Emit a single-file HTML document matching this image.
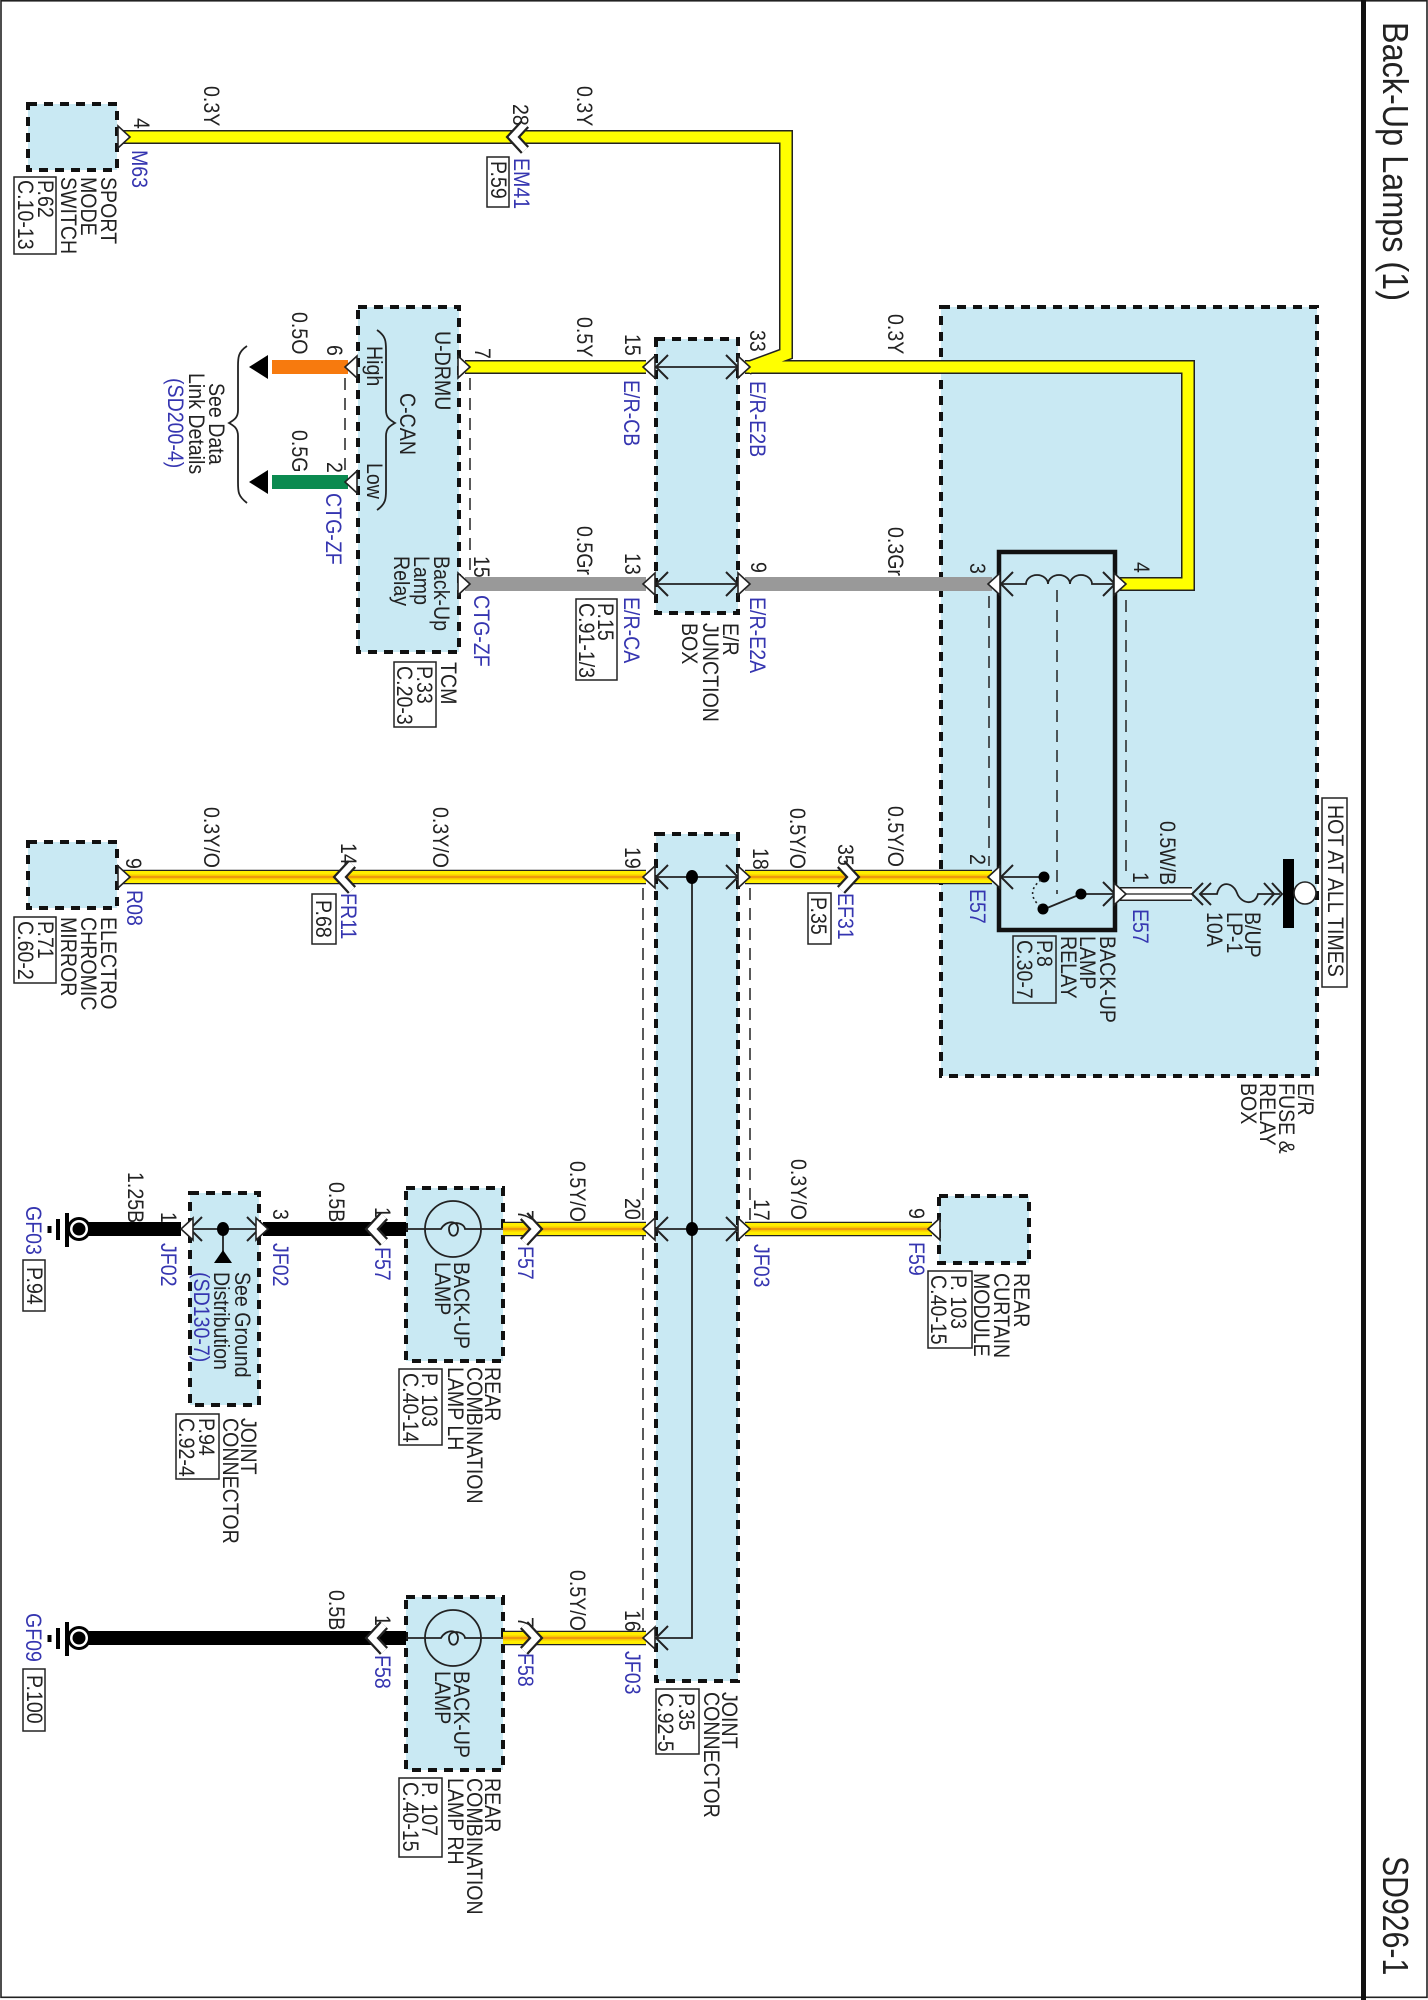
<!DOCTYPE html>
<html><head><meta charset="utf-8"><title>Back-Up Lamps (1)</title>
<style>
html,body{margin:0;padding:0;background:#fff}
svg{display:block}
text{font-family:"Liberation Sans",sans-serif;font-size:22px;fill:#222}
.b{fill:#3535b0}
.box{fill:#c9e9f3;stroke:#111;stroke-width:4;stroke-dasharray:9 7}
.ref{fill:#fff;stroke:#222;stroke-width:1.5}
.ln{fill:none;stroke:#222;stroke-width:1.8}
.da{fill:none;stroke:#222;stroke-width:1.5;stroke-dasharray:12 8}
</style></head><body>
<svg width="1428" height="2000" viewBox="0 0 1428 2000" xmlns="http://www.w3.org/2000/svg">
<defs>
<polygon id="R" points="-12,-11 0,0 -12,11" fill="#fff" stroke="#222" stroke-width="1.6"/>
<polygon id="L" points="12,-11 0,0 12,11" fill="#fff" stroke="#222" stroke-width="1.6"/>
<g id="RW"><polyline points="-12,-13 0,0 -12,13" fill="none" stroke="#222" stroke-width="11"/><polyline points="-12,-13 0,0 -12,13" fill="none" stroke="#fff" stroke-width="6.5"/></g>
<g id="LW"><polyline points="12,-13 0,0 12,13" fill="none" stroke="#222" stroke-width="11"/><polyline points="12,-13 0,0 12,13" fill="none" stroke="#fff" stroke-width="6.5"/></g>
<polyline id="ar" points="-12,-12 0,0 -12,12" fill="none" stroke="#222" stroke-width="2"/>
<polyline id="al" points="12,-12 0,0 12,12" fill="none" stroke="#222" stroke-width="2"/>
</defs>

<!-- frame -->
<rect x="1" y="0.8" width="1426" height="1996.5" fill="none" stroke="#222" stroke-width="1.6"/>
<rect x="1361" y="0" width="5" height="2000" fill="#111"/>

<!-- wires: yellow -->
<path d="M122 137H786V354L748 368M465 367H646M745 367H1188V584H1120" fill="none" stroke="#222" stroke-width="14" stroke-linejoin="miter"/>
<path d="M122 137H786V354L748 368M465 367H646M745 367H1188V584H1120" fill="none" stroke="#ffff00" stroke-width="11" stroke-linejoin="miter"/>

<!-- boxes -->
<rect class="box" x="28" y="104" width="89" height="66"/>
<rect class="box" x="358" y="307" width="101" height="345"/>
<rect class="box" x="656" y="339" width="82" height="274"/>
<path d="M941 307H1317V1076H941Z" fill="#c9e9f3"/>
<path class="box" style="fill:none" d="M941 307H1317V1076H941Z"/>
<rect class="box" x="28" y="842" width="89" height="66"/>
<rect class="box" x="656" y="834" width="82" height="847"/>
<rect class="box" x="190" y="1193" width="69" height="212"/>
<rect class="box" x="406" y="1188" width="97" height="173"/>
<rect class="box" x="406" y="1597" width="97" height="173"/>
<rect class="box" x="939" y="1196" width="90" height="67"/>
<rect x="999" y="552" width="116" height="378" fill="#c9e9f3" stroke="#111" stroke-width="4.5"/>

<!-- dashed shield lines -->
<path class="da" d="M345 378V475M470 378V572M643 888V1638M750 888V1225M989 596V866M1126 600V871M1057 590V894"/>

<!-- redraw yellow inside fuse box -->
<path d="M932 367H1188V584H1120" fill="none" stroke="#222" stroke-width="14" stroke-linejoin="miter"/>
<path d="M932 367H1188V584H1120" fill="none" stroke="#ffff00" stroke-width="11" stroke-linejoin="miter"/>
<!-- gray -->
<path d="M465 584H646M745 584H992" fill="none" stroke="#999" stroke-width="14"/>
<!-- orange / green -->
<rect x="272" y="360" width="76" height="14" fill="#f77a0e"/>
<rect x="272" y="475" width="76" height="14" fill="#0b8a50"/>
<polygon points="249,367 268,355 268,379" fill="#000"/>
<polygon points="249,482 268,470 268,494" fill="#000"/>
<!-- Y/O -->
<g fill="none">
<path d="M122 877H646M745 877H992M503 1229H646M745 1229H932M503 1638H646" stroke="#222" stroke-width="14.5"/>
<path d="M122 877H646M745 877H992M503 1229H646M745 1229H932M503 1638H646" stroke="#ffee00" stroke-width="12"/>
<path d="M122 877H646M745 877H992M503 1229H646M745 1229H932M503 1638H646" stroke="#f9c800" stroke-width="5"/>
<path d="M122 877H646M745 877H992M503 1229H646M745 1229H932M503 1638H646" stroke="#ea8a10" stroke-width="1.6"/>
</g>
<!-- Black wires -->
<path d="M85 1229H181M263 1229H406M85 1638H406" fill="none" stroke="#000" stroke-width="14"/>
<!-- W/B -->
<path d="M1120 894H1192" stroke="#222" stroke-width="14" fill="none"/>
<path d="M1120 894H1192" stroke="#fff" stroke-width="11" fill="none"/>
<path d="M1120 894H1192" stroke="#444" stroke-width="1.4" fill="none"/>

<!-- internal lines -->
<path class="ln" d="M656 367H738M656 584H738M656 877H738M656 1229H738M692 877V1638H656M190 1229H259M223 1229V1252"/>
<path class="ln" d="M406 1229H441C446 1220 458 1220 458 1229C458 1238 449 1238 449 1229C449 1220 464 1222 465 1229H503"/>
<path class="ln" d="M406 1638H441C446 1629 458 1629 458 1638C458 1647 449 1647 449 1638C449 1629 464 1631 465 1638H503"/>
<circle cx="453" cy="1229" r="28" class="ln"/>
<circle cx="453" cy="1638" r="28" class="ln"/>
<use href="#al" x="656" y="367"/><use href="#ar" x="738" y="367"/>
<use href="#al" x="656" y="584"/><use href="#ar" x="738" y="584"/>
<use href="#al" x="656" y="877"/><use href="#ar" x="738" y="877"/>
<use href="#al" x="656" y="1229"/><use href="#ar" x="738" y="1229"/>
<use href="#al" x="656" y="1638"/>
<use href="#al" x="190" y="1229"/><use href="#ar" x="259" y="1229"/>
<ellipse cx="692" cy="877" rx="6" ry="7" fill="#000"/>
<ellipse cx="692" cy="1229" rx="6" ry="7" fill="#000"/>
<ellipse cx="223" cy="1229" rx="6" ry="7" fill="#000"/>
<polygon points="223,1250 214,1263 232,1263" fill="#000"/>

<!-- relay internals -->
<path class="ln" d="M1001 584H1026a11 9 0 0 1 22 0a11 9 0 0 1 22 0a11 9 0 0 1 22 0H1115"/>
<use href="#al" x="1001" y="584"/><use href="#ar" x="1115" y="584"/>
<path class="ln" d="M1001 877H1044M1081 894H1115M1081 894L1047 908"/>
<use href="#al" x="1001" y="877"/><use href="#ar" x="1115" y="894"/>
<circle cx="1044" cy="877" r="5.5" fill="#000"/><circle cx="1043" cy="909" r="5.5" fill="#000"/><circle cx="1081" cy="894" r="5.5" fill="#000"/>
<path d="M1041 880C1030 888 1030 898 1040 906" fill="none" stroke="#222" stroke-width="1.6" stroke-dasharray="2 3"/>

<!-- fuse -->
<path class="ln" d="M1200 894H1217C1220 880 1233 882 1237 893C1241 904 1255 906 1258 894H1280"/>
<polyline points="1203,883 1192,894 1203,905" fill="none" stroke="#222" stroke-width="2"/>
<polyline points="1211,883 1200,894 1211,905" fill="none" stroke="#222" stroke-width="2"/>
<polyline points="1264,883 1274,894 1264,905" fill="none" stroke="#222" stroke-width="2"/>
<polyline points="1272,883 1282,894 1272,905" fill="none" stroke="#222" stroke-width="2"/>
<rect x="1283" y="859" width="11" height="69" fill="#000"/>
<circle cx="1305" cy="893" r="11" fill="#fff" stroke="#222" stroke-width="1.6"/>

<!-- connector chevrons -->
<use href="#R" x="130" y="137"/><use href="#LW" x="513" y="137"/>
<use href="#R" x="470" y="367"/><use href="#L" x="643" y="367"/><use href="#R" x="750" y="367"/>
<use href="#L" x="345" y="367"/><use href="#L" x="345" y="482"/>
<use href="#R" x="470" y="584"/><use href="#L" x="643" y="584"/><use href="#R" x="750" y="584"/><use href="#L" x="988" y="584"/><use href="#R" x="1126" y="584"/>
<use href="#R" x="130" y="877"/><use href="#LW" x="340" y="877"/><use href="#L" x="643" y="877"/><use href="#R" x="750" y="877"/><use href="#RW" x="853" y="877"/><use href="#L" x="988" y="877"/><use href="#R" x="1126" y="894"/>
<use href="#L" x="181" y="1229"/><use href="#R" x="268" y="1229"/><use href="#LW" x="372" y="1229"/><use href="#RW" x="536" y="1229"/><use href="#L" x="643" y="1229"/><use href="#R" x="750" y="1229"/><use href="#L" x="928" y="1229"/>
<use href="#LW" x="372" y="1638"/><use href="#RW" x="536" y="1638"/><use href="#L" x="643" y="1638"/>

<!-- grounds -->
<circle cx="79" cy="1229" r="12" fill="#000"/><circle cx="79" cy="1229" r="9" fill="#fff"/><circle cx="79" cy="1229" r="6.5" fill="#000"/>
<circle cx="79" cy="1638" r="12" fill="#000"/><circle cx="79" cy="1638" r="9" fill="#fff"/><circle cx="79" cy="1638" r="6.5" fill="#000"/>
<path d="M67 1213V1247M58 1219V1240M49.5 1226V1233M67 1622V1656M58 1628V1649M49.5 1635V1642" stroke="#000" stroke-width="4" fill="none"/>

<!-- braces -->
<path class="ln" d="M247 346C238 352 238 358 238 366V410C238 418 234 420 229 423C234 426 238 428 238 436V482C238 492 238 496 247 503"/>
<path class="ln" d="M377 330C386 336 386 342 386 350V410C386 418 390 420 395 423C390 426 386 428 386 436V490C386 498 386 504 377 510"/>

<!-- reference boxes -->
<rect class="ref" x="14" y="177" width="42" height="77"/>
<rect class="ref" x="487" y="157" width="22" height="50"/>
<rect class="ref" x="394" y="662" width="42" height="65"/>
<rect class="ref" x="576" y="599" width="41" height="81"/>
<rect class="ref" x="14" y="917" width="42" height="66"/>
<rect class="ref" x="312" y="894" width="24" height="50"/>
<rect class="ref" x="808" y="893" width="23" height="51"/>
<rect class="ref" x="1013" y="936" width="43" height="67" style="fill:none"/>
<rect class="ref" x="1322" y="798" width="25" height="189"/>
<rect class="ref" x="23" y="1260" width="22" height="51"/>
<rect class="ref" x="176" y="1414" width="43" height="65"/>
<rect class="ref" x="399" y="1369" width="43" height="76"/>
<rect class="ref" x="928" y="1271" width="44" height="77"/>
<rect class="ref" x="23" y="1669" width="22" height="62"/>
<rect class="ref" x="399" y="1778" width="43" height="79"/>
<rect class="ref" x="656" y="1689" width="43" height="65"/>

<!-- labels -->
<g>
<text transform="matrix(0 .9 -1 0 1383 22)" style="font-size:36px">Back-Up Lamps (1)</text>
<text transform="matrix(0 .84 -1 0 1383 1856)" style="font-size:36px">SD926-1</text>

<text transform="matrix(0 .89 -1 0 134 118)">4</text>
<text transform="matrix(0 .89 -1 0 204 86)">0.3Y</text>
<text transform="matrix(0 .89 -1 0 513 104)">28</text>
<text transform="matrix(0 .89 -1 0 577 86)">0.3Y</text>
<text transform="matrix(0 .89 -1 0 750 330)">33</text>
<text class="b" transform="matrix(0 .89 -1 0 750 381)">E/R-E2B</text>
<text class="b" transform="matrix(0 .89 -1 0 132 150)">M63</text>
<text class="b" transform="matrix(0 .89 -1 0 514 158)">EM41</text>
<text transform="matrix(0 .89 -1 0 491 161)">P.59</text>
<text transform="matrix(0 .89 -1 0 101 177)">SPORT</text>
<text transform="matrix(0 .89 -1 0 81 177)">MODE</text>
<text transform="matrix(0 .89 -1 0 61 177)">SWITCH</text>
<text transform="matrix(0 .89 -1 0 38 180)">P.62</text>
<text transform="matrix(0 .89 -1 0 18 180)">C.10-13</text>

<text transform="matrix(0 .89 -1 0 292 312)">0.5O</text>
<text transform="matrix(0 .89 -1 0 292 430)">0.5G</text>
<text transform="matrix(0 .89 -1 0 327 345)">6</text>
<text transform="matrix(0 .89 -1 0 327 462)">2</text>
<text class="b" transform="matrix(0 .89 -1 0 326 493)">CTG-ZF</text>
<text transform="matrix(0 .89 -1 0 367 346)">High</text>
<text transform="matrix(0 .89 -1 0 367 463)">Low</text>
<text transform="matrix(0 .89 -1 0 400 393)">C-CAN</text>
<text transform="matrix(0 .89 -1 0 435 331)">U-DRMU</text>
<text transform="matrix(0 .89 -1 0 475 348)">7</text>
<text transform="matrix(0 .89 -1 0 577 317)">0.5Y</text>
<text transform="matrix(0 .89 -1 0 625 334)">15</text>
<text class="b" transform="matrix(0 .89 -1 0 624 380)">E/R-CB</text>
<text transform="matrix(0 .89 -1 0 209 383)">See Data</text>
<text transform="matrix(0 .89 -1 0 189 373)">Link Details</text>
<text class="b" transform="matrix(0 .89 -1 0 168 378)">(SD200-4)</text>
<text transform="matrix(0 .89 -1 0 434 556)">Back-Up</text>
<text transform="matrix(0 .89 -1 0 414 556)">Lamp</text>
<text transform="matrix(0 .89 -1 0 394 556)">Relay</text>
<text transform="matrix(0 .89 -1 0 474 556)">15</text>
<text class="b" transform="matrix(0 .89 -1 0 474 595)">CTG-ZF</text>
<text transform="matrix(0 .89 -1 0 577 526)">0.5Gr</text>
<text transform="matrix(0 .89 -1 0 625 553)">13</text>
<text class="b" transform="matrix(0 .89 -1 0 624 597)">E/R-CA</text>
<text transform="matrix(0 .89 -1 0 751 562)">9</text>
<text class="b" transform="matrix(0 .89 -1 0 750 597)">E/R-E2A</text>
<text transform="matrix(0 .89 -1 0 598 603)">P.15</text>
<text transform="matrix(0 .89 -1 0 579 603)">C.91-1/3</text>
<text transform="matrix(0 .89 -1 0 723 623)">E/R</text>
<text transform="matrix(0 .89 -1 0 703 623)">JUNCTION</text>
<text transform="matrix(0 .89 -1 0 682 623)">BOX</text>
<text transform="matrix(0 .89 -1 0 441 662)">TCM</text>
<text transform="matrix(0 .89 -1 0 417 666)">P.33</text>
<text transform="matrix(0 .89 -1 0 397 666)">C.20-3</text>

<text transform="matrix(0 .89 -1 0 888 314)">0.3Y</text>
<text transform="matrix(0 .89 -1 0 888 527)">0.3Gr</text>
<text transform="matrix(0 .89 -1 0 970 563)">3</text>
<text transform="matrix(0 .89 -1 0 1134 562)">4</text>
<text transform="matrix(0 .89 -1 0 888 806)">0.5Y/O</text>
<text transform="matrix(0 .89 -1 0 790 808)">0.5Y/O</text>
<text transform="matrix(0 .89 -1 0 753 848)">18</text>
<text transform="matrix(0 .89 -1 0 838 844)">35</text>
<text class="b" transform="matrix(0 .89 -1 0 838 893)">EF31</text>
<text transform="matrix(0 .89 -1 0 811 897)">P.35</text>
<text transform="matrix(0 .89 -1 0 970 854)">2</text>
<text class="b" transform="matrix(0 .89 -1 0 970 889)">E57</text>
<text transform="matrix(0 .89 -1 0 1133 872)">1</text>
<text transform="matrix(0 .89 -1 0 1160 821)">0.5W/B</text>
<text class="b" transform="matrix(0 .89 -1 0 1133 909)">E57</text>
<text transform="matrix(0 .89 -1 0 1100 936)">BACK-UP</text>
<text transform="matrix(0 .89 -1 0 1080 936)">LAMP</text>
<text transform="matrix(0 .89 -1 0 1061 936)">RELAY</text>
<text transform="matrix(0 .89 -1 0 1037 940)">P.8</text>
<text transform="matrix(0 .89 -1 0 1017 940)">C.30-7</text>
<text transform="matrix(0 .89 -1 0 1245 912)">B/UP</text>
<text transform="matrix(0 .89 -1 0 1227 912)">LP-1</text>
<text transform="matrix(0 .89 -1 0 1207 912)">10A</text>
<text transform="matrix(0 .89 -1 0 1328 805)">HOT AT ALL TIMES</text>
<text transform="matrix(0 .89 -1 0 1298 1083)">E/R</text>
<text transform="matrix(0 .89 -1 0 1279 1083)">FUSE &amp;</text>
<text transform="matrix(0 .89 -1 0 1260 1083)">RELAY</text>
<text transform="matrix(0 .89 -1 0 1241 1083)">BOX</text>

<text transform="matrix(0 .89 -1 0 126 858)">9</text>
<text transform="matrix(0 .89 -1 0 204 807)">0.3Y/O</text>
<text transform="matrix(0 .89 -1 0 341 843)">14</text>
<text transform="matrix(0 .89 -1 0 433 807)">0.3Y/O</text>
<text transform="matrix(0 .89 -1 0 625 847)">19</text>
<text class="b" transform="matrix(0 .89 -1 0 127 890)">R08</text>
<text class="b" transform="matrix(0 .89 -1 0 341 893)">FR11</text>
<text transform="matrix(0 .89 -1 0 316 900)">P.68</text>
<text transform="matrix(0 .89 -1 0 101 917)">ELECTRO</text>
<text transform="matrix(0 .89 -1 0 81 917)">CHROMIC</text>
<text transform="matrix(0 .89 -1 0 61 917)">MIRROR</text>
<text transform="matrix(0 .89 -1 0 38 921)">P.71</text>
<text transform="matrix(0 .89 -1 0 18 921)">C.60-2</text>

<text transform="matrix(0 .89 -1 0 128 1172)">1.25B</text>
<text transform="matrix(0 .89 -1 0 161 1212)">1</text>
<text class="b" transform="matrix(0 .89 -1 0 161 1243)">JF02</text>
<text class="b" transform="matrix(0 .89 -1 0 26 1206)">GF03</text>
<text transform="matrix(0 .89 -1 0 27 1267)">P.94</text>
<text transform="matrix(0 .89 -1 0 273 1209)">3</text>
<text class="b" transform="matrix(0 .89 -1 0 273 1243)">JF02</text>
<text transform="matrix(0 .89 -1 0 329 1182)">0.5B</text>
<text transform="matrix(0 .89 -1 0 375 1207)">1</text>
<text class="b" transform="matrix(0 .89 -1 0 375 1247)">F57</text>
<text transform="matrix(0 .89 -1 0 518 1210)">7</text>
<text class="b" transform="matrix(0 .89 -1 0 518 1246)">F57</text>
<text transform="matrix(0 .89 -1 0 570 1161)">0.5Y/O</text>
<text transform="matrix(0 .89 -1 0 625 1198)">20</text>
<text transform="matrix(0 .89 -1 0 754 1199)">17</text>
<text class="b" transform="matrix(0 .89 -1 0 754 1244)">JF03</text>
<text transform="matrix(0 .89 -1 0 235 1272)">See Ground</text>
<text transform="matrix(0 .89 -1 0 214 1272)">Distribution</text>
<text class="b" transform="matrix(0 .89 -1 0 194 1272)">(SD130-7)</text>
<text transform="matrix(0 .89 -1 0 241 1418)">JOINT</text>
<text transform="matrix(0 .89 -1 0 223 1418)">CONNECTOR</text>
<text transform="matrix(0 .89 -1 0 199 1418)">P.94</text>
<text transform="matrix(0 .89 -1 0 179 1418)">C.92-4</text>
<text transform="matrix(0 .89 -1 0 454 1262)">BACK-UP</text>
<text transform="matrix(0 .89 -1 0 435 1262)">LAMP</text>
<text transform="matrix(0 .89 -1 0 485 1367)">REAR</text>
<text transform="matrix(0 .89 -1 0 467 1367)">COMBINATION</text>
<text transform="matrix(0 .89 -1 0 448 1367)">LAMP LH</text>
<text transform="matrix(0 .89 -1 0 422 1373)">P. 103</text>
<text transform="matrix(0 .89 -1 0 403 1373)">C.40-14</text>

<text transform="matrix(0 .89 -1 0 791 1159)">0.3Y/O</text>
<text transform="matrix(0 .89 -1 0 909 1208)">9</text>
<text class="b" transform="matrix(0 .89 -1 0 909 1242)">F59</text>
<text transform="matrix(0 .89 -1 0 1014 1273)">REAR</text>
<text transform="matrix(0 .89 -1 0 994 1273)">CURTAIN</text>
<text transform="matrix(0 .89 -1 0 974 1273)">MODULE</text>
<text transform="matrix(0 .89 -1 0 951 1275)">P. 103</text>
<text transform="matrix(0 .89 -1 0 931 1275)">C.40-15</text>

<text transform="matrix(0 .89 -1 0 329 1590)">0.5B</text>
<text transform="matrix(0 .89 -1 0 375 1615)">1</text>
<text class="b" transform="matrix(0 .89 -1 0 375 1655)">F58</text>
<text transform="matrix(0 .89 -1 0 518 1617)">7</text>
<text class="b" transform="matrix(0 .89 -1 0 518 1653)">F58</text>
<text transform="matrix(0 .89 -1 0 570 1570)">0.5Y/O</text>
<text transform="matrix(0 .89 -1 0 625 1610)">16</text>
<text class="b" transform="matrix(0 .89 -1 0 625 1651)">JF03</text>
<text class="b" transform="matrix(0 .89 -1 0 26 1613)">GF09</text>
<text transform="matrix(0 .89 -1 0 27 1675)">P.100</text>
<text transform="matrix(0 .89 -1 0 454 1671)">BACK-UP</text>
<text transform="matrix(0 .89 -1 0 435 1671)">LAMP</text>
<text transform="matrix(0 .89 -1 0 485 1778)">REAR</text>
<text transform="matrix(0 .89 -1 0 467 1778)">COMBINATION</text>
<text transform="matrix(0 .89 -1 0 448 1778)">LAMP RH</text>
<text transform="matrix(0 .89 -1 0 422 1782)">P. 107</text>
<text transform="matrix(0 .89 -1 0 403 1782)">C.40-15</text>
<text transform="matrix(0 .89 -1 0 722 1692)">JOINT</text>
<text transform="matrix(0 .89 -1 0 704 1692)">CONNECTOR</text>
<text transform="matrix(0 .89 -1 0 679 1693)">P.35</text>
<text transform="matrix(0 .89 -1 0 658 1693)">C.92-5</text>
</g>
</svg>
</body></html>
